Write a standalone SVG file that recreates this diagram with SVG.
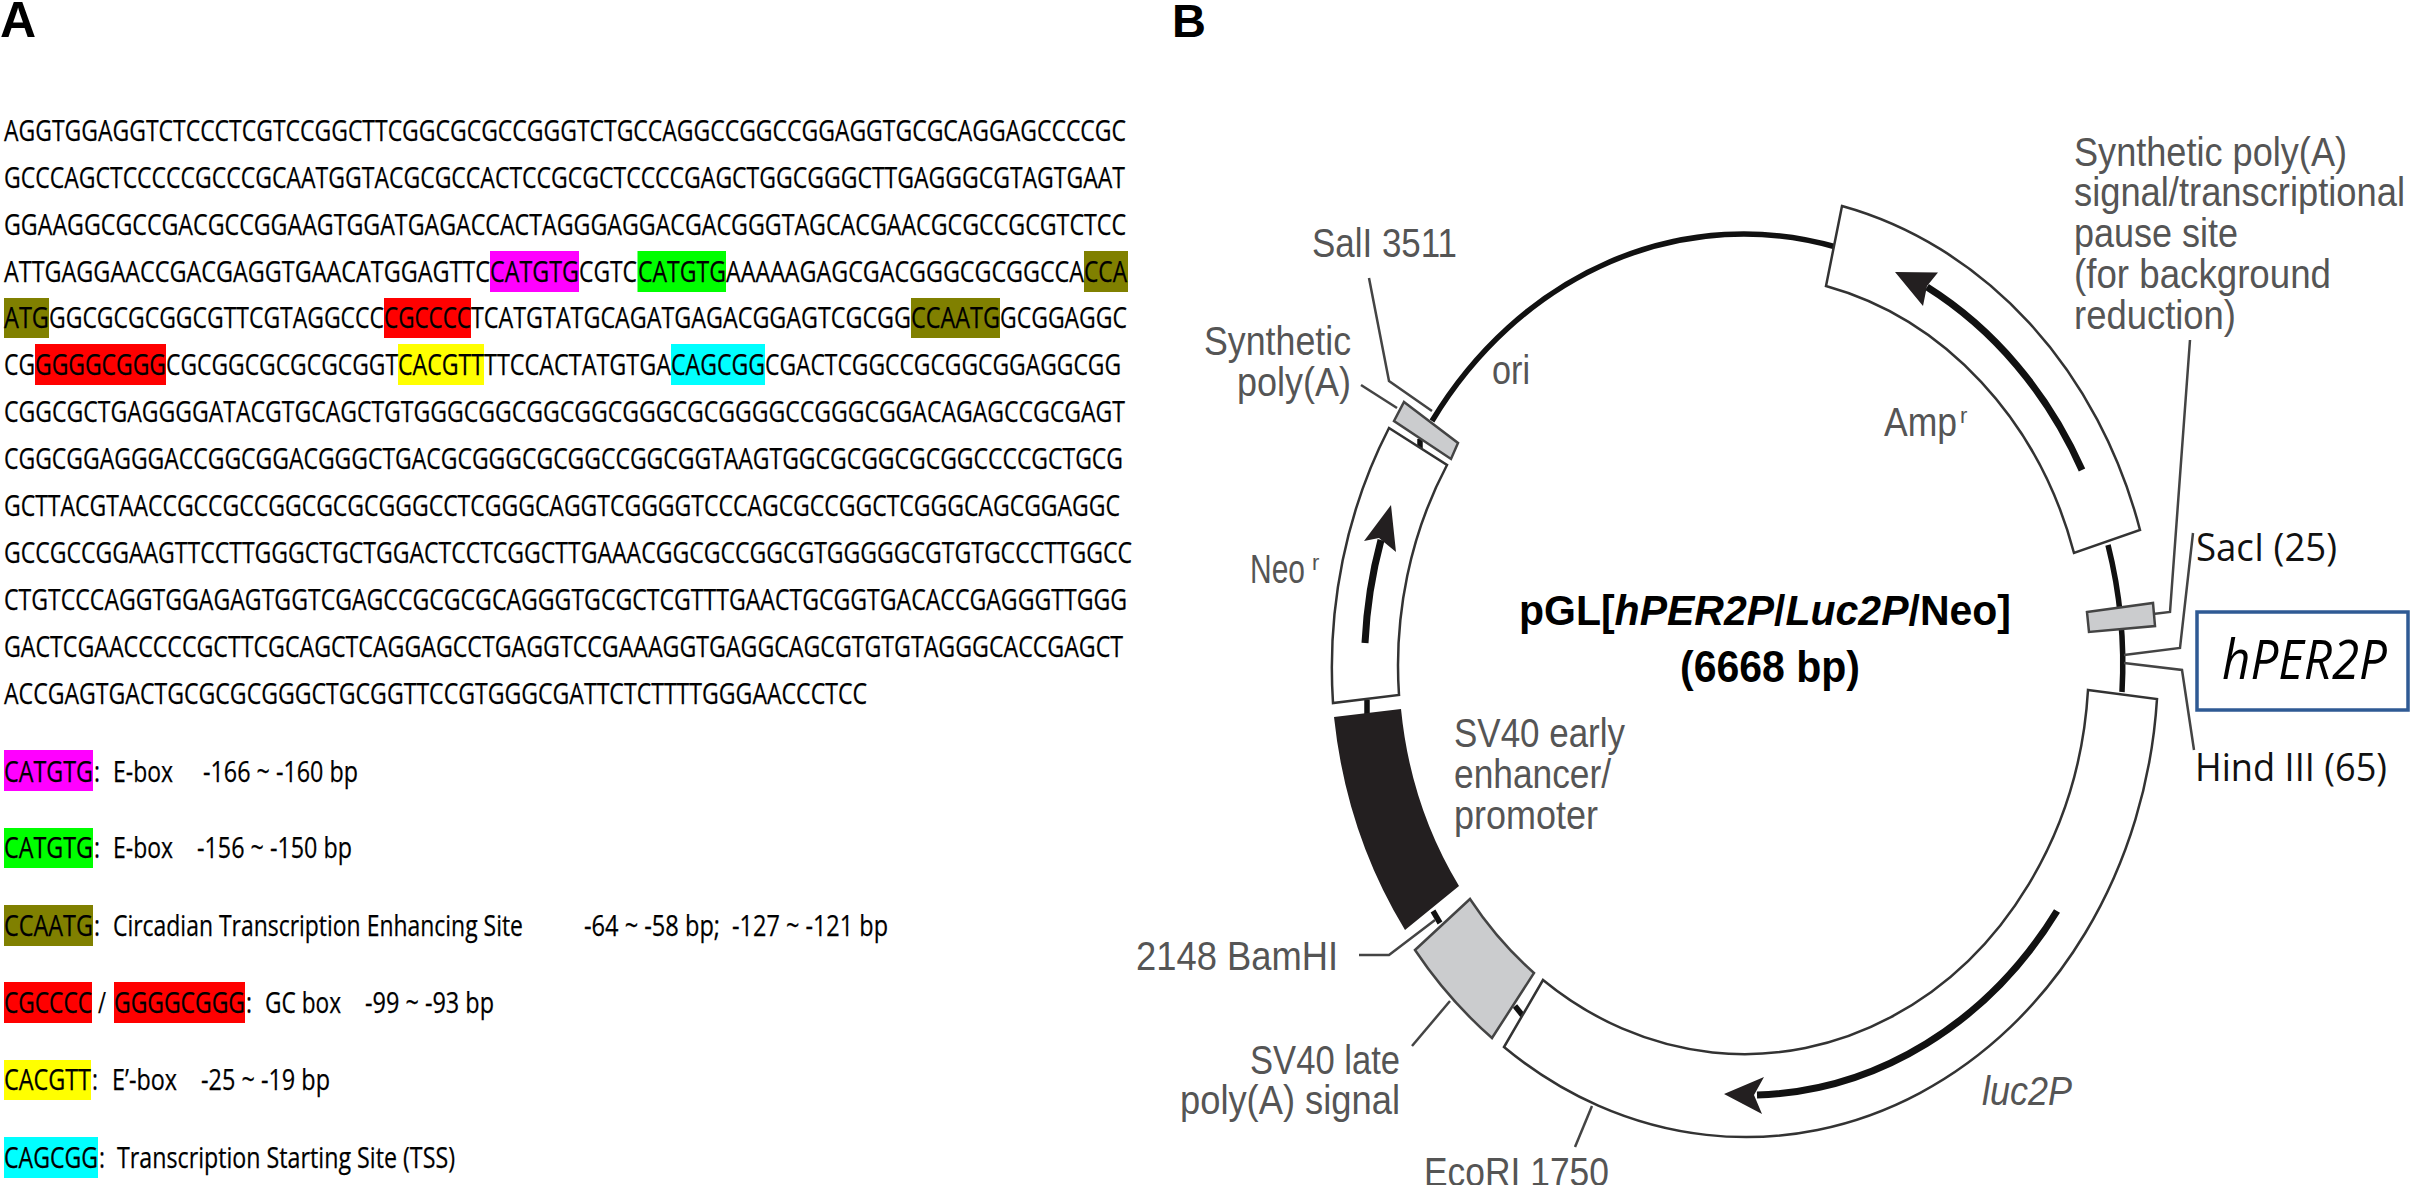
<svg xmlns="http://www.w3.org/2000/svg" width="2411" height="1185" viewBox="0 0 2411 1185">
<style>
text{font-family:"Liberation Sans",Arial,sans-serif}
.s{font-family:"Open Sans","Noto Sans",sans-serif;font-size:29px;fill:#000;stroke:#000;stroke-width:.25}
.g{font-size:40px;fill:#555}
.k{font-family:"Open Sans","Noto Sans",sans-serif;font-size:38px;fill:#111}
.b{font-weight:bold;fill:#000}
.box{fill:#fff;stroke:#333;stroke-width:2.5}
.gbox{fill:#cbccce;stroke:#444;stroke-width:2.5}
.lead{fill:none;stroke:#444;stroke-width:2.5}
.bone{fill:none;stroke:#111;stroke-width:5.5}
.arr{fill:none;stroke:#111;stroke-width:7}
.head{fill:#231f20}
.mag{fill:#ff00ff}.grn{fill:#00ff00}.olv{fill:#808000}.red{fill:#ff0000}.yel{fill:#ffff00}.cyn{fill:#00ffff}
</style>
<rect width="2411" height="1185" fill="#fff"/>
<text id="label-A" class="b" x="0" y="37" font-size="50">A</text>
<text id="label-B" class="b" x="1172" y="37" font-size="47">B</text>

<g id="highlights">
<rect class="mag" x="490" y="251" width="89" height="41"/>
<rect class="grn" x="637.5" y="251" width="88.5" height="41"/>
<rect class="olv" x="1084" y="251" width="44" height="41"/>
<rect class="olv" x="4" y="298" width="45" height="40"/>
<rect class="red" x="384" y="298" width="87" height="40"/>
<rect class="olv" x="911" y="298" width="89" height="40"/>
<rect class="red" x="35" y="344" width="131" height="41"/>
<rect class="yel" x="398" y="344" width="86" height="41"/>
<rect class="cyn" x="671" y="344" width="94" height="41"/>
<rect class="mag" x="4" y="750" width="89" height="41"/>
<rect class="grn" x="4" y="828" width="89" height="40"/>
<rect class="olv" x="4" y="905" width="89" height="41"/>
<rect class="red" x="4" y="982" width="88" height="41"/>
<rect class="red" x="114" y="982" width="131" height="41"/>
<rect class="yel" x="4" y="1060" width="87" height="40"/>
<rect class="cyn" x="4" y="1137" width="94" height="41"/>
</g>

<g id="sequence">
<text class="s" x="4" y="141" textLength="1122" lengthAdjust="spacingAndGlyphs">AGGTGGAGGTCTCCCTCGTCCGGCTTCGGCGCGCCGGGTCTGCCAGGCCGGCCGGAGGTGCGCAGGAGCCCCGC</text>
<text class="s" x="4" y="188" textLength="1121" lengthAdjust="spacingAndGlyphs">GCCCAGCTCCCCCGCCCGCAATGGTACGCGCCACTCCGCGCTCCCCGAGCTGGCGGGCTTGAGGGCGTAGTGAAT</text>
<text class="s" x="4" y="235" textLength="1122" lengthAdjust="spacingAndGlyphs">GGAAGGCGCCGACGCCGGAAGTGGATGAGACCACTAGGGAGGACGACGGGTAGCACGAACGCGCCGCGTCTCC</text>
<text class="s" y="282"><tspan x="4" textLength="486" lengthAdjust="spacingAndGlyphs">ATTGAGGAACCGACGAGGTGAACATGGAGTTC</tspan><tspan x="490" textLength="89" lengthAdjust="spacingAndGlyphs">CATGTG</tspan><tspan x="579" textLength="58" lengthAdjust="spacingAndGlyphs">CGTC</tspan><tspan x="638" textLength="88" lengthAdjust="spacingAndGlyphs">CATGTG</tspan><tspan x="726" textLength="358" lengthAdjust="spacingAndGlyphs">AAAAAGAGCGACGGGCGCGGCCA</tspan><tspan x="1084" textLength="43" lengthAdjust="spacingAndGlyphs">CCA</tspan></text>
<text class="s" y="328"><tspan x="4" textLength="45" lengthAdjust="spacingAndGlyphs">ATG</tspan><tspan x="49" textLength="335" lengthAdjust="spacingAndGlyphs">GGCGCGCGGCGTTCGTAGGCCC</tspan><tspan x="384" textLength="87" lengthAdjust="spacingAndGlyphs">CGCCCC</tspan><tspan x="471" textLength="440" lengthAdjust="spacingAndGlyphs">TCATGTATGCAGATGAGACGGAGTCGCGG</tspan><tspan x="911" textLength="89" lengthAdjust="spacingAndGlyphs">CCAATG</tspan><tspan x="1000" textLength="127" lengthAdjust="spacingAndGlyphs">GCGGAGGC</tspan></text>
<text class="s" y="375"><tspan x="4" textLength="31" lengthAdjust="spacingAndGlyphs">CG</tspan><tspan x="35" textLength="131" lengthAdjust="spacingAndGlyphs">GGGGCGGG</tspan><tspan x="166" textLength="232" lengthAdjust="spacingAndGlyphs">CGCGGCGCGCGCGGT</tspan><tspan x="398" textLength="86" lengthAdjust="spacingAndGlyphs">CACGTT</tspan><tspan x="484" textLength="187" lengthAdjust="spacingAndGlyphs">TTCCACTATGTGA</tspan><tspan x="671" textLength="94" lengthAdjust="spacingAndGlyphs">CAGCGG</tspan><tspan x="765" textLength="356" lengthAdjust="spacingAndGlyphs">CGACTCGGCCGCGGCGGAGGCGG</tspan></text>
<text class="s" x="4" y="422" textLength="1121" lengthAdjust="spacingAndGlyphs">CGGCGCTGAGGGGATACGTGCAGCTGTGGGCGGCGGCGGCGGGCGCGGGGCCGGGCGGACAGAGCCGCGAGT</text>
<text class="s" x="4" y="469" textLength="1119" lengthAdjust="spacingAndGlyphs">CGGCGGAGGGACCGGCGGACGGGCTGACGCGGGCGCGGCCGGCGGTAAGTGGCGCGGCGCGGCCCCGCTGCG</text>
<text class="s" x="4" y="516" textLength="1116" lengthAdjust="spacingAndGlyphs">GCTTACGTAACCGCCGCCGGCGCGCGGGCCTCGGGCAGGTCGGGGTCCCAGCGCCGGCTCGGGCAGCGGAGGC</text>
<text class="s" x="4" y="563" textLength="1128" lengthAdjust="spacingAndGlyphs">GCCGCCGGAAGTTCCTTGGGCTGCTGGACTCCTCGGCTTGAAACGGCGCCGGCGTGGGGGCGTGTGCCCTTGGCC</text>
<text class="s" x="4" y="610" textLength="1123" lengthAdjust="spacingAndGlyphs">CTGTCCCAGGTGGAGAGTGGTCGAGCCGCGCGCAGGGTGCGCTCGTTTGAACTGCGGTGACACCGAGGGTTGGG</text>
<text class="s" x="4" y="657" textLength="1119" lengthAdjust="spacingAndGlyphs">GACTCGAACCCCCGCTTCGCAGCTCAGGAGCCTGAGGTCCGAAAGGTGAGGCAGCGTGTGTAGGGCACCGAGCT</text>
<text class="s" x="4" y="704" textLength="863" lengthAdjust="spacingAndGlyphs">ACCGAGTGACTGCGCGCGGGCTGCGGTTCCGTGGGCGATTCTCTTTTGGGAACCCTCC</text>
</g>

<g id="legend">
<text class="s" y="782"><tspan x="4" textLength="89" lengthAdjust="spacingAndGlyphs">CATGTG</tspan><tspan x="94" textLength="6" lengthAdjust="spacingAndGlyphs">:</tspan><tspan x="113" textLength="60" lengthAdjust="spacingAndGlyphs">E-box</tspan><tspan x="203" textLength="155" lengthAdjust="spacingAndGlyphs">-166 ~ -160 bp</tspan></text>
<text class="s" y="858"><tspan x="4" textLength="89" lengthAdjust="spacingAndGlyphs">CATGTG</tspan><tspan x="94" textLength="6" lengthAdjust="spacingAndGlyphs">:</tspan><tspan x="113" textLength="60" lengthAdjust="spacingAndGlyphs">E-box</tspan><tspan x="197" textLength="155" lengthAdjust="spacingAndGlyphs">-156 ~ -150 bp</tspan></text>
<text class="s" y="936"><tspan x="4" textLength="89" lengthAdjust="spacingAndGlyphs">CCAATG</tspan><tspan x="94" textLength="6" lengthAdjust="spacingAndGlyphs">:</tspan><tspan x="113" textLength="410" lengthAdjust="spacingAndGlyphs">Circadian Transcription Enhancing Site</tspan><tspan x="584" textLength="136" lengthAdjust="spacingAndGlyphs">-64 ~ -58 bp;</tspan><tspan x="732" textLength="156" lengthAdjust="spacingAndGlyphs">-127 ~ -121 bp</tspan></text>
<text class="s" y="1013"><tspan x="4" textLength="88" lengthAdjust="spacingAndGlyphs">CGCCCC</tspan><tspan x="98" textLength="8" lengthAdjust="spacingAndGlyphs">/</tspan><tspan x="114" textLength="131" lengthAdjust="spacingAndGlyphs">GGGGCGGG</tspan><tspan x="246" textLength="6" lengthAdjust="spacingAndGlyphs">:</tspan><tspan x="265" textLength="76" lengthAdjust="spacingAndGlyphs">GC box</tspan><tspan x="365" textLength="129" lengthAdjust="spacingAndGlyphs">-99 ~ -93 bp</tspan></text>
<text class="s" y="1090"><tspan x="4" textLength="87" lengthAdjust="spacingAndGlyphs">CACGTT</tspan><tspan x="92" textLength="6" lengthAdjust="spacingAndGlyphs">:</tspan><tspan x="112" textLength="65" lengthAdjust="spacingAndGlyphs">E’-box</tspan><tspan x="201" textLength="129" lengthAdjust="spacingAndGlyphs">-25 ~ -19 bp</tspan></text>
<text class="s" y="1168"><tspan x="4" textLength="94" lengthAdjust="spacingAndGlyphs">CAGCGG</tspan><tspan x="99" textLength="6" lengthAdjust="spacingAndGlyphs">:</tspan><tspan x="117" textLength="338" lengthAdjust="spacingAndGlyphs">Transcription Starting Site (TSS)</tspan></text>
</g>

<g id="connectors">
<path class="bone" d="M1432,421 A378 431 0 0 1 1836,247"/>
<path class="bone" d="M2108,545 A378 431 0 0 1 2122,692"/>
<path class="bone" d="M1367,700 L1367,715"/>
<path class="bone" d="M1433,911 L1440,923"/>
<path class="bone" d="M1515,1006 L1523,1016"/>
<path class="bone" d="M1420,439 L1420,448"/>
<path class="lead" d="M1369,278 L1389,381 L1432,411"/>
<path class="lead" d="M1361,385 L1397,408"/>
<path class="lead" d="M1359,955 L1389,955 L1435,920"/>
<path class="lead" d="M1450,1001 L1412,1046"/>
<path class="lead" d="M1592,1106 L1575,1147"/>
<path class="lead" d="M2190,340 L2170,612 L2153,614"/>
<path class="lead" d="M2193,533 L2180,648 L2124,655"/>
<path class="lead" d="M2124,663 L2182,670 L2194,750"/>
</g>

<g id="amp">
<path class="box" d="M1842,206 A412 472 0 0 1 2140,530 L2074,553 A344 390 0 0 0 1826,286 Z"/>
<path class="arr" d="M2082,470 A378 431 0 0 0 1927,287"/>
<path class="head" d="M1895,272 L1938,272.5 L1927,286 L1923,306 Z"/>
<text class="g" y="436"><tspan x="1884" textLength="73" lengthAdjust="spacingAndGlyphs">Amp</tspan><tspan x="1960" y="423" font-size="22">r</tspan></text>
</g>
<g id="neo">
<path class="box" d="M1389,428 A412 472 0 0 0 1333,703 L1399,695 A344 390 0 0 1 1447,465 Z"/>
<path class="arr" d="M1365,643 A378 431 0 0 1 1381,540"/>
<path class="head" d="M1391,505 L1364,541 L1379,538 L1396,552 Z"/>
<text class="g" y="583"><tspan x="1250" textLength="55" lengthAdjust="spacingAndGlyphs">Neo</tspan><tspan x="1312" y="570" font-size="22">r</tspan></text>
</g>
<g id="luc2P">
<path class="box" d="M2088,690 L2157,699 A412 472 0 0 1 1504,1047 L1543,980 A344 390 0 0 0 2088,690 Z"/>
<path class="arr" d="M2057,911 A378 431 0 0 1 1757,1095"/>
<path class="head" d="M1724,1094 L1764,1077 L1754,1095 L1762,1114 Z"/>
<text class="g" x="1982" y="1105" font-style="italic" textLength="90" lengthAdjust="spacingAndGlyphs">luc2P</text>
</g>
<g id="sv40-early">
<path d="M1334,717 L1401,709 A344 390 0 0 0 1459,886 L1405,930 A412 472 0 0 1 1334,717 Z" fill="#231f20"/>
<text class="g" x="1454" y="747" textLength="171" lengthAdjust="spacingAndGlyphs">SV40 early</text>
<text class="g" x="1454" y="788" textLength="157" lengthAdjust="spacingAndGlyphs">enhancer/</text>
<text class="g" x="1454" y="829" textLength="144" lengthAdjust="spacingAndGlyphs">promoter</text>
</g>
<g id="sv40-late">
<path class="gbox" d="M1470,899 A344 390 0 0 0 1534,973 L1492,1038 A412 472 0 0 1 1415,950 Z"/>
<text class="g" x="1250" y="1074" textLength="150" lengthAdjust="spacingAndGlyphs">SV40 late</text>
<text class="g" x="1180" y="1114" textLength="220" lengthAdjust="spacingAndGlyphs">poly(A) signal</text>
</g>
<g id="synthetic-polyA-left">
<path class="gbox" d="M1404,402 L1458,443 L1451,459 L1394,421 Z"/>
<text class="g" x="1204" y="355" textLength="147" lengthAdjust="spacingAndGlyphs">Synthetic</text>
<text class="g" x="1237" y="396" textLength="114" lengthAdjust="spacingAndGlyphs">poly(A)</text>
</g>
<g id="synthetic-polyA-right">
<path class="gbox" d="M2087,612 L2153,603 L2155,626 L2089,632 Z"/>
<text class="g" x="2074" y="166" textLength="273" lengthAdjust="spacingAndGlyphs">Synthetic poly(A)</text>
<text class="g" x="2074" y="206" textLength="331" lengthAdjust="spacingAndGlyphs">signal/transcriptional</text>
<text class="g" x="2074" y="247" textLength="164" lengthAdjust="spacingAndGlyphs">pause site</text>
<text class="g" x="2074" y="288" textLength="257" lengthAdjust="spacingAndGlyphs">(for background</text>
<text class="g" x="2074" y="329" textLength="162" lengthAdjust="spacingAndGlyphs">reduction)</text>
</g>
<g id="sites">
<text class="g" x="1312" y="257" textLength="145" lengthAdjust="spacingAndGlyphs">SalI 3511</text>
<text class="g" x="1492" y="384" textLength="38" lengthAdjust="spacingAndGlyphs">ori</text>
<text class="g" x="1136" y="970" textLength="202" lengthAdjust="spacingAndGlyphs">2148 BamHI</text>
<text class="g" x="1424" y="1186" textLength="185" lengthAdjust="spacingAndGlyphs">EcoRI 1750</text>
<text class="k" x="2196" y="561" textLength="141" lengthAdjust="spacingAndGlyphs">SacI (25)</text>
<text class="k" x="2195" y="781" textLength="192" lengthAdjust="spacingAndGlyphs">Hind III (65)</text>
</g>
<g id="title">
<text class="b" y="625" font-size="42" textLength="492" x="1519" lengthAdjust="spacingAndGlyphs">pGL[<tspan font-style="italic">hPER2P</tspan>/<tspan font-style="italic">Luc2P</tspan>/Neo]</text>
<text class="b" x="1680" y="682" font-size="44" textLength="180" lengthAdjust="spacingAndGlyphs">(6668 bp)</text>
</g>
<g id="hPER2P">
<rect x="2197" y="612" width="211" height="98" fill="#fff" stroke="#2f5a94" stroke-width="3.5"/>
<text x="2222" y="679" font-size="54" font-style="italic" style="font-family:'Open Sans','Noto Sans',sans-serif" fill="#000" textLength="165" lengthAdjust="spacingAndGlyphs">hPER2P</text>
</g>
</svg>
